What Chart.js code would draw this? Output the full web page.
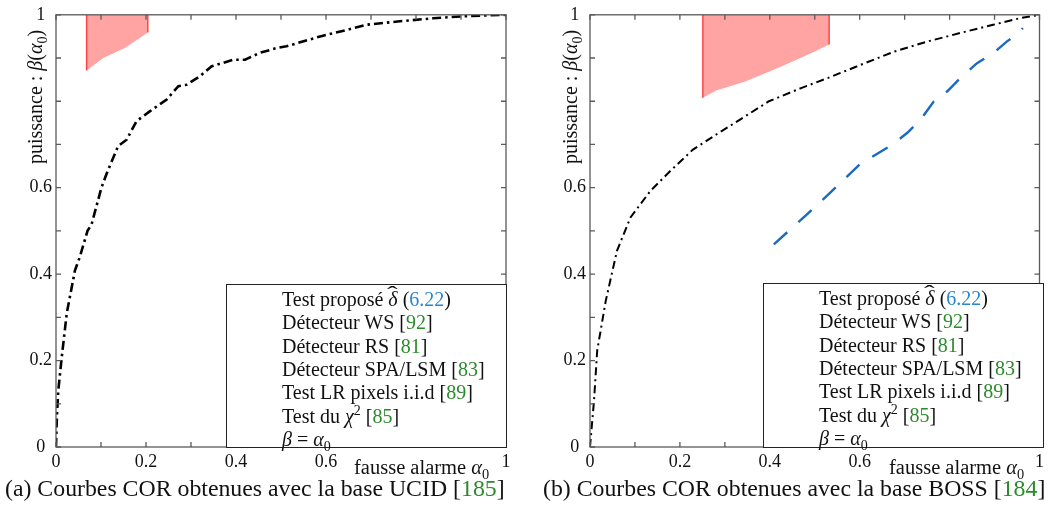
<!DOCTYPE html>
<html>
<head>
<meta charset="utf-8">
<script src="https://cdn.jsdelivr.net/npm/chart.js@4/dist/chart.umd.min.js"></script>
<style>
  body { margin: 0; background: #fff; width: 1048px; height: 506px; position: relative; overflow: hidden;
         font-family: "Liberation Serif", "DejaVu Serif", serif; color: #111; }
  .panel { position: absolute; top: 0; }
  sub, sup { line-height: 0; font-size: 70%; }
  .ylab { position: absolute; font-size: 20px; white-space: nowrap; transform: rotate(-90deg); transform-origin: left top; line-height: 1; }
  .xlab { position: absolute; font-size: 20.5px; white-space: nowrap; line-height: 1; }
  .legend { position: absolute; border: 1px solid #222; background: #fff; box-sizing: border-box; }
  .legend div { position: absolute; font-size: 20px; white-space: nowrap; line-height: 1; }
  .hat { position: relative; display: inline-block; }
  .hat span { position: absolute; left: 1px; top: -5px; font-style: normal; transform: scaleX(1.6); }
  .cap { position: absolute; top: 477px; font-size: 23.8px; white-space: nowrap; line-height: 1; }
  .g { color: #2b8a2b; }
  .b { color: #2a86d0; }
</style>
</head>
<body>
<div class="panel" style="left:0px"><canvas id="ucid" width="524" height="480"></canvas></div>
<div class="panel" style="left:530px"><canvas id="boss" width="518" height="480"></canvas></div>

<div class="ylab" style="left:25px; top:164px">puissance : <i>β</i>(<i>α</i><sub>0</sub>)</div>
<div class="ylab" style="left:560px; top:164px">puissance : <i>β</i>(<i>α</i><sub>0</sub>)</div>
<div class="xlab" style="left:354px; top:457px">fausse alarme <i>α</i><sub>0</sub></div>
<div class="xlab" style="left:889px; top:457px">fausse alarme <i>α</i><sub>0</sub></div>

<div class="legend" id="legA" style="left:226px; top:284px; width:281px; height:164px"></div>
<div class="legend" id="legB" style="left:763px; top:283px; width:281px; height:165px"></div>

<div class="cap" style="left:5px">(a) Courbes COR obtenues avec la base UCID [<span class="g">185</span>]</div>
<div class="cap" style="left:543px">(b) Courbes COR obtenues avec la base BOSS [<span class="g">184</span>]</div>

<script>
// axis ticks (every 0.1) and the labelled ones
const tickValues = [0, 0.1, 0.2, 0.3, 0.4, 0.5, 0.6, 0.7, 0.8, 0.9, 1];
const xTickLabels = ["0", "0.2", "0.4", "0.6", "1"];
const yTickLabels = ["0", "0.2", "0.4", "0.6", "1"];

// legend entries (text, reference number)
const legendNames = ['Test proposé <span class="hat"><i>δ</i><span>ˆ</span></span> (', "Détecteur WS [", "Détecteur RS [",
  "Détecteur SPA/LSM [", "Test LR pixels i.i.d [", "Test du <i>χ</i><sup>2</sup> [", "<i>β</i> = <i>α</i><sub>0</sub>"];
const legendRefs = ["6.22", "92", "81", "83", "89", "85", ""];

// (a) UCID
const ucidLrAlpha = [0, 0.002, 0.005, 0.013, 0.024, 0.042, 0.053, 0.07, 0.079, 0.101, 0.112, 0.138, 0.157, 0.179, 0.209,
  0.246, 0.272, 0.29, 0.32, 0.346, 0.394, 0.42, 0.453, 0.49, 0.512, 0.587, 0.646, 0.69, 0.764, 0.838, 0.912, 1];
const ucidLrBeta = [0, 0.07, 0.13, 0.21, 0.31, 0.408, 0.44, 0.5, 0.515, 0.6, 0.631, 0.696, 0.711, 0.754, 0.777,
  0.804, 0.835, 0.838, 0.858, 0.881, 0.896, 0.896, 0.912, 0.923, 0.927, 0.95, 0.965, 0.977, 0.985, 0.992, 0.997, 1];
const ucidZoneAlpha = [0.068, 0.068, 0.105, 0.153, 0.204, 0.204];
const ucidZoneBeta = [1, 0.871, 0.9, 0.923, 0.959, 1];

// (b) BOSS
const bossLrAlpha = [0, 0.009, 0.016, 0.035, 0.06, 0.09, 0.134, 0.178, 0.229, 0.281, 0.339, 0.398, 0.471, 0.53,
  0.604, 0.677, 0.75, 0.824, 0.897, 0.956, 1];
const bossLrBeta = [0, 0.108, 0.223, 0.338, 0.454, 0.531, 0.592, 0.638, 0.688, 0.723, 0.761, 0.8, 0.831, 0.854,
  0.885, 0.915, 0.938, 0.958, 0.977, 0.992, 1];
const bossWsAlpha = [0.409, 0.471, 0.534, 0.6, 0.673, 0.706, 0.736, 0.765, 0.795, 0.824, 0.861, 0.897, 0.927, 0.949, 0.963];
const bossWsBeta = [0.469, 0.527, 0.588, 0.654, 0.7, 0.727, 0.758, 0.8, 0.823, 0.854, 0.888, 0.911, 0.938, 0.954, 0.969];
const bossZoneAlpha = [0.251, 0.251, 0.281, 0.347, 0.427, 0.5, 0.532, 0.532];
const bossZoneBeta = [1, 0.808, 0.825, 0.846, 0.881, 0.915, 0.931, 1];

const pts = (xs, ys) => xs.map((x, i) => ({ x, y: ys[i] }));
const fmt = v => String(Math.round(v * 10) / 10);

function fillLegend(id) {
  const box = document.getElementById(id);
  legendNames.forEach((name, i) => {
    const row = document.createElement("div");
    row.style.left = "55px";
    row.style.top = (4 + i * 23.3) + "px";
    const ref = legendRefs[i];
    if (i === 0) row.innerHTML = name + '<span class="b">' + ref + "</span>)";
    else if (ref) row.innerHTML = name + '<span class="g">' + ref + "</span>]";
    else row.innerHTML = name;
    box.appendChild(row);
  });
}
fillLegend("legA");
fillLegend("legB");

// frame + inward ticks on the four sides
const framePlugin = {
  id: "frame",
  afterDatasetsDraw(chart) {
    const { ctx, chartArea: a, scales } = chart;
    ctx.save();
    ctx.strokeStyle = "#5a5a5a";
    ctx.lineWidth = 1.3;
    ctx.strokeRect(a.left, a.top, a.right - a.left, a.bottom - a.top);
    ctx.beginPath();
    tickValues.forEach(v => {
      const px = scales.x.getPixelForValue(v);
      const py = scales.y.getPixelForValue(v);
      ctx.moveTo(px, a.bottom); ctx.lineTo(px, a.bottom - 5);
      ctx.moveTo(px, a.top); ctx.lineTo(px, a.top + 5);
      ctx.moveTo(a.left, py); ctx.lineTo(a.left + 5, py);
      ctx.moveTo(a.right, py); ctx.lineTo(a.right - 5, py);
    });
    ctx.stroke();
    ctx.restore();
  }
};

function zoneSet(xs, ys) {
  const last = xs.length - 2;
  return {
    data: pts(xs, ys),
    borderWidth: 1.5,
    backgroundColor: "#ffa3a3",
    fill: "end",
    pointRadius: 0,
    tension: 0,
    segment: {
      borderColor: c => (c.p0DataIndex === 0 || c.p0DataIndex === last) ? "#ff4545" : "rgba(0,0,0,0)"
    }
  };
}

function makeChart(id, datasets, yWidth, padRight) {
  new Chart(document.getElementById(id), {
    type: "line",
    data: { datasets },
    plugins: [framePlugin],
    options: {
      responsive: false,
      animation: false,
      layout: { padding: { top: 13, right: padRight, left: 0, bottom: 0 } },
      plugins: { legend: { display: false }, tooltip: { enabled: false } },
      scales: {
        x: {
          type: "linear", min: 0, max: 1,
          afterBuildTicks: s => { s.ticks = tickValues.map(v => ({ value: v })); },
          afterFit: s => { s.height = 33; },
          grid: { display: false, drawTicks: false }, border: { display: false },
          ticks: {
            autoSkip: false, maxRotation: 0, padding: 4, color: "#111",
            font: { family: "Liberation Serif", size: 18 },
            callback: v => xTickLabels.includes(fmt(v)) ? fmt(v) : ""
          }
        },
        y: {
          type: "linear", min: 0, max: 1,
          afterBuildTicks: s => { s.ticks = tickValues.map(v => ({ value: v })); },
          afterFit: s => { s.width = yWidth; },
          grid: { display: false, drawTicks: false }, border: { display: false },
          ticks: {
            autoSkip: false, padding: 4, crossAlign: "center", color: "#111",
            font: { family: "Liberation Serif", size: 18 },
            callback: v => yTickLabels.includes(fmt(v)) ? fmt(v) : ""
          }
        }
      }
    }
  });
}

makeChart("ucid", [
  zoneSet(ucidZoneAlpha, ucidZoneBeta),
  { data: pts(ucidLrAlpha, ucidLrBeta), borderColor: "#000", borderWidth: 2.6, borderDash: [9, 4, 2.5, 4],
    pointRadius: 0, tension: 0, fill: false }
], 56, 18);

makeChart("boss", [
  zoneSet(bossZoneAlpha, bossZoneBeta),
  { data: pts(bossLrAlpha, bossLrBeta), borderColor: "#000", borderWidth: 2, borderDash: [8, 4, 2, 4],
    pointRadius: 0, tension: 0, fill: false },
  { data: pts(bossWsAlpha, bossWsBeta), borderColor: "#1a6bbf", borderWidth: 2.4, borderDash: [18, 15],
    pointRadius: 0, tension: 0, fill: false }
], 60, 5);
</script>
</body>
</html>
